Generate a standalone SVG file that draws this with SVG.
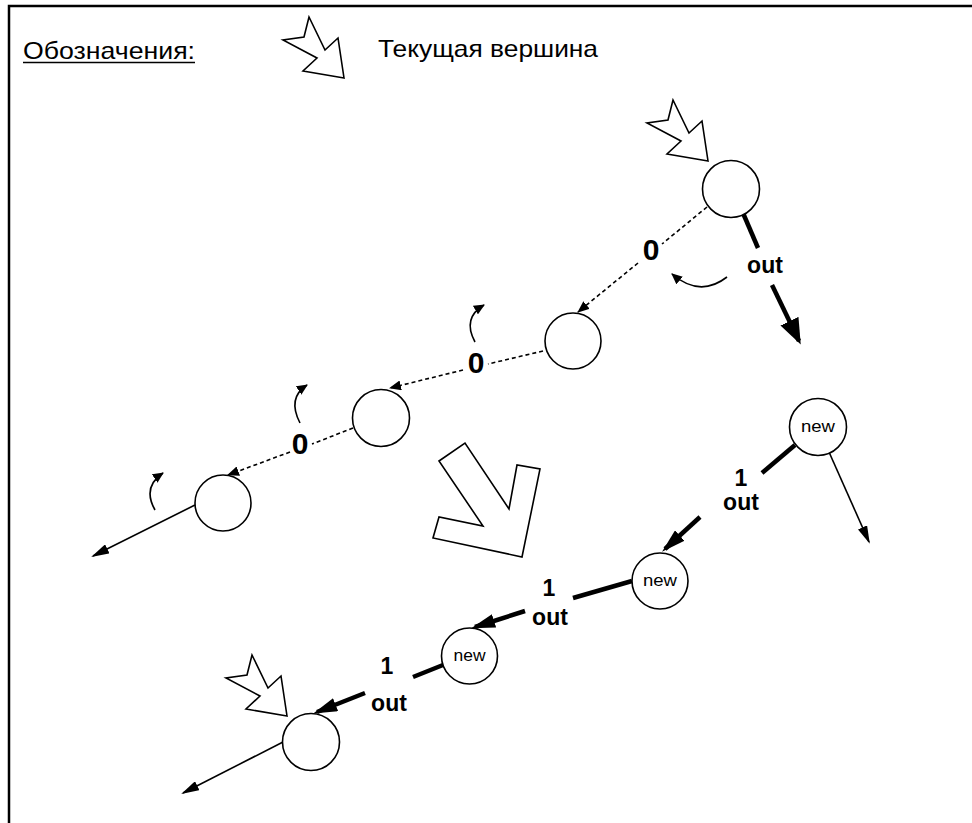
<svg xmlns="http://www.w3.org/2000/svg" width="972" height="823" viewBox="0 0 972 823">
<style>
.node{fill:#fff;stroke:#000;stroke-width:1.6}
.nw{font-family:"Liberation Sans",Arial,sans-serif;font-size:16px;text-anchor:middle}
.lbl{font-family:"Liberation Sans",Arial,sans-serif;font-weight:bold;text-anchor:middle}
.zero{font-size:30px}
.one{font-size:23px}
.out{font-size:23px}
.dot{fill:none;stroke:#000;stroke-width:1.6;stroke-dasharray:4 3}
.thin{fill:none;stroke:#000;stroke-width:1.6}
.thick{fill:none;stroke:#000;stroke-width:4.5}
.curve{fill:none;stroke:#000;stroke-width:1.6}
.hollow{fill:#fff;stroke:#000;stroke-width:1.6;stroke-linejoin:miter}
.txt{font-family:"Liberation Sans",Arial,sans-serif;font-size:24px}
</style>
<defs>
<marker id="ahS" viewBox="0 0 12 10" markerWidth="12" markerHeight="10" refX="11" refY="5" orient="auto" markerUnits="userSpaceOnUse"><path d="M0,0 L12,5 L0,10 z"/></marker>
<marker id="ahT" viewBox="0 0 18 10" markerWidth="18" markerHeight="10" refX="16" refY="5" orient="auto" markerUnits="userSpaceOnUse"><path d="M0,0 L18,5 L0,10 z"/></marker>
<marker id="ahK" viewBox="0 0 24 14" markerWidth="24" markerHeight="14" refX="20" refY="7" orient="auto" markerUnits="userSpaceOnUse"><path d="M0,0 L24,7 L0,14 z"/></marker>
<marker id="ahB" viewBox="0 0 26 20" markerWidth="26" markerHeight="20" refX="22" refY="10" orient="auto" markerUnits="userSpaceOnUse"><path d="M0,0 L26,10 L0,20 z"/></marker>
<marker id="ahC" viewBox="0 0 11 10" markerWidth="11" markerHeight="10" refX="10" refY="5" orient="auto" markerUnits="userSpaceOnUse"><path d="M0,0 L11,5 L0,10 z"/></marker>
<path id="cur" d="M0,0 L-41,-7 L-27,-20 L-61,-38 L-40,-41 L-35,-61 L-19,-28 L-6,-40 z"/>
</defs>

<!-- frame -->
<path d="M9,823 L9,6 L972,6" fill="none" stroke="#000" stroke-width="2.5"/>

<!-- legend -->
<g id="legend">
<text class="txt" x="23" y="59" textLength="172" lengthAdjust="spacingAndGlyphs">Обозначения:</text>
<line x1="23" y1="62.5" x2="195" y2="62.5" stroke="#000" stroke-width="1.6"/>
<use href="#cur" x="344" y="78" class="hollow"/>
<text class="txt" x="378" y="57" textLength="220" lengthAdjust="spacingAndGlyphs">Текущая вершина</text>
</g>

<!-- connectors -->
<g id="connectors">
<path class="dot" d="M707,207 L662,244"/>
<path class="dot" d="M638,263 L578,312" marker-end="url(#ahS)"/>
<path class="dot" d="M543,351 L488,364"/>
<path class="dot" d="M463,370 L390,388" marker-end="url(#ahS)"/>
<path class="dot" d="M353,428 L312,444"/>
<path class="dot" d="M290,452 L228,475" marker-end="url(#ahS)"/>
<path class="thin" d="M195,505 L93,556" marker-end="url(#ahT)"/>
<path class="thin" d="M283,742 L183,793" marker-end="url(#ahT)"/>
<path class="thin" d="M829,452 L869,542" marker-end="url(#ahT)"/>
<path class="thick" d="M743,213 L758,248"/>
<path class="thick" d="M772,285 L799,341" marker-end="url(#ahB)"/>
<path class="thick" d="M795,445 L762,473"/>
<path class="thick" d="M700,517 L665,549" marker-end="url(#ahK)"/>
<path class="thick" d="M632,581 L573,598"/>
<path class="thick" d="M525,611 L475,627" marker-end="url(#ahK)"/>
<path class="thick" d="M443,665 L413,677"/>
<path class="thick" d="M365,693 L317,712" marker-end="url(#ahK)"/>
<path class="curve" d="M727,277 Q700,298 672,274" marker-end="url(#ahC)"/>
<path class="curve" d="M475,342 Q462,318 484,305" marker-end="url(#ahC)"/>
<path class="curve" d="M300,423 Q287,398 307,385" marker-end="url(#ahC)"/>
<path class="curve" d="M155,510 Q142,487 163,473" marker-end="url(#ahC)"/>
<text class="lbl zero" x="651" y="260">0</text>
<text class="lbl zero" x="476" y="373">0</text>
<text class="lbl zero" x="300" y="454">0</text>
<text class="lbl out" x="765" y="273">out</text>
<text class="lbl one" x="741" y="486">1</text>
<text class="lbl out" x="741" y="510">out</text>
<text class="lbl one" x="549" y="596">1</text>
<text class="lbl out" x="550" y="625">out</text>
<text class="lbl one" x="387" y="674">1</text>
<text class="lbl out" x="389" y="711">out</text>
</g>

<!-- current-vertex pointers -->
<g id="pointer-top"><use href="#cur" x="708" y="161" class="hollow"/></g>
<g id="pointer-bottom"><use href="#cur" x="287" y="716" class="hollow"/></g>
<g id="big-arrow"><polygon class="hollow" points="439,461 465,443 509,509 517,465 540,469 522,557 433,538 439,517 483,526"/></g>

<!-- nodes -->
<g id="nodeA"><circle class="node" cx="731" cy="189" r="28.5"/></g>
<g id="nodeB"><circle class="node" cx="573" cy="341" r="28"/></g>
<g id="nodeC"><circle class="node" cx="381" cy="418" r="28.5"/></g>
<g id="nodeD"><circle class="node" cx="223" cy="503" r="28"/></g>
<g id="nodeE"><circle class="node" cx="818" cy="427" r="28.5"/><text class="nw" x="818" y="432" textLength="34" lengthAdjust="spacingAndGlyphs">new</text></g>
<g id="nodeF"><circle class="node" cx="660" cy="581" r="28"/><text class="nw" x="660" y="586" textLength="34" lengthAdjust="spacingAndGlyphs">new</text></g>
<g id="nodeG"><circle class="node" cx="469.5" cy="656" r="28"/><text class="nw" x="469.5" y="661" textLength="32" lengthAdjust="spacingAndGlyphs">new</text></g>
<g id="nodeH"><circle class="node" cx="311" cy="742" r="28.5"/></g>
</svg>
